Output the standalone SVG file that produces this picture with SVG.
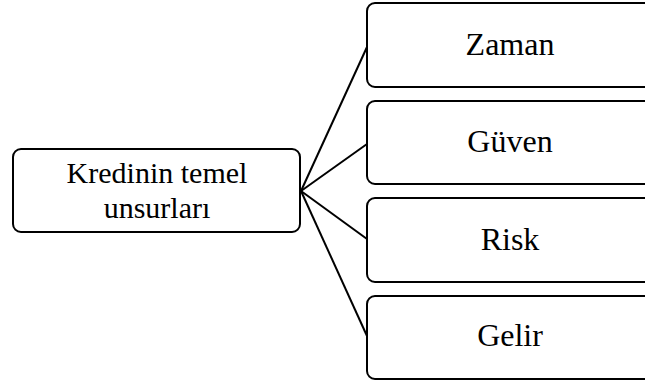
<svg xmlns="http://www.w3.org/2000/svg" width="645" height="383" viewBox="0 0 645 383">
<style>
.box{fill:#fff;stroke:#000;stroke-width:2}
.lbl{font-family:"Liberation Serif","Times New Roman",serif;font-size:32px;fill:#000;text-anchor:middle}
.root{font-size:30px}
.conn{stroke:#000;stroke-width:2;fill:none}
</style>
<rect width="645" height="383" fill="#fff"/>
<g id="connectors">
<line class="conn" x1="301" y1="191" x2="367" y2="47"/>
<line class="conn" x1="301" y1="191" x2="367" y2="144"/>
<line class="conn" x1="301" y1="191" x2="367" y2="239"/>
<line class="conn" x1="301" y1="191" x2="367" y2="336"/>
</g>
<g id="root">
<rect class="box" x="13" y="149" width="287" height="83" rx="8"/>
<text class="lbl root" x="157" y="183">Kredinin temel</text>
<text class="lbl root" x="157" y="218">unsurları</text>
</g>
<g id="zaman">
<rect class="box" x="367" y="3" width="286" height="84" rx="8"/>
<text class="lbl" x="510" y="55">Zaman</text>
</g>
<g id="guven">
<rect class="box" x="367" y="101" width="286" height="83" rx="8"/>
<text class="lbl" x="510" y="152">Güven</text>
</g>
<g id="risk">
<rect class="box" x="367" y="198" width="286" height="84" rx="8"/>
<text class="lbl" x="510" y="250">Risk</text>
</g>
<g id="gelir">
<rect class="box" x="367" y="296" width="286" height="83" rx="8"/>
<text class="lbl" x="510" y="346">Gelir</text>
</g>
</svg>
